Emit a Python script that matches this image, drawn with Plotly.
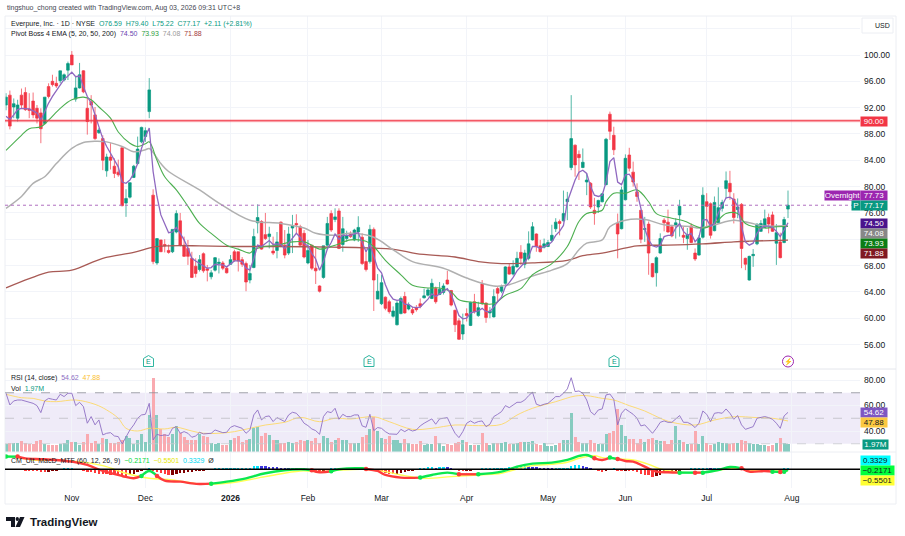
import plotly.graph_objects as go

# chart is indexed by trading day, 0 = Oct 9 2025, 202 = Jul 31 2026
month_ticks = [17, 36, 58, 78, 97, 119, 140, 160, 181, 203]
month_labels = ["Nov", "Dec", "<b>2026</b>", "Feb", "Mar", "Apr", "May", "Jun", "Jul", "Aug"]
# 72 and 104 only get a grid line, the tags and the USD box cover their labels
price_ticks = [56, 60, 64, 68, 72, 76, 80, 84, 88, 92, 96, 100, 104]
price_labels = ["56.00", "60.00", "64.00", "68.00", "", "76.00", "80.00", "84.00", "88.00", "92.00", "96.00", "100.00", ""]

opens = [
    92.4, 93.9, 92.1, 90.4, 93.9, 94.3, 91.8, 93.0, 91.9, 91.2,
    89.6, 95.2, 96.0, 95.7, 96.1, 96.2, 97.7, 100.0, 93.3, 95.0,
    97.6, 91.9, 92.9, 90.9, 88.2, 87.3, 82.4, 84.5, 83.1, 82.2,
    85.9, 77.5, 78.4, 81.4, 83.5, 86.8, 87.6, 91.4, 78.7, 68.4,
    71.9, 71.2, 70.3, 70.1, 73.1, 74.8, 71.1, 70.6, 69.1, 67.9,
    67.4, 69.8, 67.5, 66.3, 67.3, 68.3, 68.4, 67.6, 68.2, 70.1,
    70.1, 68.9, 68.3, 65.8, 67.7, 74.5, 74.7, 72.7, 72.4, 70.2,
    70.3, 74.6, 71.1, 69.9, 73.7, 74.4, 73.9, 72.9, 68.4, 71.1,
    67.6, 64.9, 66.2, 71.1, 75.9, 75.0, 76.3, 71.2, 72.1, 72.9,
    71.9, 73.1, 72.3, 68.6, 68.6, 73.5, 62.9, 62.2, 63.2, 62.5,
    60.3, 59.0, 60.7, 63.3, 61.4, 61.3, 61.6, 62.2, 63.1, 63.5,
    63.0, 64.5, 63.6, 63.9, 65.8, 64.2, 61.2, 59.6, 57.6, 60.7,
    58.9, 62.5, 60.4, 65.2, 62.3, 60.8, 60.2, 64.5, 64.1, 65.3,
    67.8, 66.7, 67.8, 70.0, 68.2, 69.1, 71.9, 72.8, 71.0, 70.8,
    70.9, 71.8, 73.6, 74.7, 74.8, 77.7, 82.9, 86.3, 84.9, 82.9,
    80.7, 80.5, 76.4, 76.9, 77.7, 80.3, 91.0, 87.8, 74.4, 73.6,
    78.0, 84.8, 82.2, 79.2, 76.4, 73.5, 74.3, 68.3, 66.9, 69.9,
    74.9, 74.6, 73.9, 74.1, 75.7, 72.6, 72.1, 74.0, 69.9, 69.6,
    72.3, 77.7, 77.4, 73.3, 74.5, 76.7, 79.7, 80.5, 78.1, 76.5,
    77.3, 69.1, 65.8, 69.5, 71.3, 73.2, 73.8, 75.3, 75.7, 71.4,
    71.6, 71.5, 76.59,
]
highs = [
    94.2, 94.6, 93.4, 93.2, 94.9, 95.1, 94.2, 94.3, 92.4, 91.9,
    93.6, 95.7, 97.0, 96.7, 97.6, 97.2, 99.0, 100.6, 96.7, 98.8,
    97.7, 93.4, 93.9, 92.1, 88.9, 87.8, 85.0, 86.6, 84.3, 84.1,
    85.9, 79.6, 80.6, 83.3, 87.6, 89.1, 89.0, 96.5, 79.6, 72.1,
    71.9, 72.0, 71.2, 73.5, 76.4, 76.0, 72.4, 71.9, 70.1, 69.1,
    69.6, 70.0, 68.1, 67.3, 69.3, 69.1, 68.7, 67.8, 69.6, 70.4,
    70.1, 69.3, 68.6, 68.1, 73.6, 77.3, 74.9, 76.0, 73.9, 72.4,
    73.1, 74.7, 73.4, 73.9, 75.7, 75.8, 74.2, 73.4, 71.9, 71.1,
    70.9, 65.0, 71.0, 75.4, 76.4, 76.7, 76.7, 75.4, 73.3, 73.2,
    73.6, 75.5, 72.9, 70.4, 74.2, 73.8, 66.7, 66.6, 63.3, 62.8,
    61.8, 62.6, 63.3, 64.0, 62.4, 61.7, 62.0, 63.0, 64.5, 64.6,
    66.0, 64.8, 65.5, 65.3, 67.2, 64.3, 61.3, 60.0, 60.7, 61.5,
    62.5, 63.7, 62.5, 65.8, 62.4, 61.7, 64.4, 64.8, 65.1, 67.9,
    68.3, 68.8, 70.1, 71.1, 70.4, 73.2, 74.6, 72.9, 71.9, 72.1,
    71.9, 74.2, 75.2, 75.0, 79.4, 79.2, 93.9, 86.4, 85.5, 85.8,
    82.0, 80.7, 78.3, 78.0, 79.0, 87.4, 91.4, 89.1, 75.9, 80.0,
    84.9, 85.9, 83.8, 80.5, 76.4, 75.4, 74.7, 68.4, 69.4, 72.9,
    75.2, 76.5, 74.2, 75.2, 78.0, 73.9, 73.7, 74.4, 70.6, 72.6,
    79.9, 79.0, 77.6, 78.5, 79.9, 78.0, 82.3, 82.4, 79.0, 78.2,
    77.5, 69.2, 69.5, 70.5, 74.4, 74.9, 76.5, 75.9, 76.2, 74.3,
    73.0, 75.4, 79.40,
]
lows = [
    91.6, 88.7, 90.4, 89.9, 91.9, 91.5, 90.4, 90.4, 89.6, 86.6,
    89.4, 93.4, 95.2, 95.0, 95.7, 96.0, 96.2, 98.5, 92.9, 94.9,
    94.2, 87.9, 89.6, 87.1, 88.0, 82.5, 81.5, 82.6, 81.3, 81.5,
    77.0, 75.4, 78.2, 81.3, 83.4, 86.6, 86.8, 90.4, 68.2, 68.1,
    70.1, 70.0, 69.8, 69.9, 72.9, 70.9, 69.3, 68.1, 66.1, 66.2,
    67.1, 66.9, 65.6, 65.9, 67.1, 66.8, 67.3, 66.8, 68.1, 68.6,
    67.1, 67.8, 64.1, 65.3, 67.6, 72.9, 70.4, 71.9, 70.6, 69.6,
    69.1, 70.8, 69.1, 69.6, 69.9, 72.9, 70.9, 69.1, 68.2, 67.3,
    65.2, 63.9, 66.0, 70.9, 73.1, 74.6, 70.5, 70.1, 71.6, 72.2,
    71.7, 71.6, 68.1, 67.1, 68.3, 61.1, 62.9, 62.0, 61.2, 60.7,
    60.1, 58.9, 60.6, 60.7, 61.2, 60.5, 61.0, 61.5, 63.0, 63.3,
    62.9, 62.2, 63.5, 63.6, 65.1, 61.8, 57.9, 56.7, 56.7, 59.5,
    58.8, 60.7, 60.2, 62.0, 59.3, 60.0, 60.1, 62.5, 63.8, 65.0,
    66.6, 66.5, 67.7, 68.1, 67.6, 68.8, 71.8, 70.1, 70.0, 70.6,
    70.8, 71.6, 73.1, 72.6, 74.7, 74.9, 82.5, 81.5, 81.0, 82.8,
    78.7, 76.6, 74.2, 76.0, 77.6, 80.2, 87.1, 84.8, 69.1, 73.5,
    77.9, 82.3, 80.0, 77.7, 71.4, 71.6, 66.6, 66.2, 64.8, 69.8,
    73.2, 73.0, 72.3, 72.1, 72.4, 71.4, 70.4, 71.4, 68.7, 69.5,
    72.1, 73.9, 72.1, 73.2, 74.4, 76.2, 78.2, 78.0, 74.4, 75.2,
    67.6, 67.3, 65.7, 67.8, 71.1, 73.1, 73.7, 72.9, 73.1, 68.1,
    69.1, 71.4, 75.22,
]
closes = [
    93.6, 89.2, 92.6, 92.4, 92.4, 91.7, 91.6, 90.9, 90.4, 88.8,
    93.6, 93.7, 95.5, 95.3, 97.6, 97.0, 98.7, 98.5, 95.0, 97.0,
    94.4, 89.9, 92.4, 87.3, 88.6, 84.0, 84.5, 84.0, 82.0, 81.8,
    77.1, 78.2, 80.6, 83.1, 85.7, 89.0, 88.5, 94.7, 68.6, 72.1,
    70.1, 71.0, 70.0, 73.5, 75.9, 71.1, 69.4, 69.4, 66.2, 66.8,
    68.9, 67.2, 67.3, 66.9, 69.2, 68.5, 67.6, 66.9, 68.9, 68.8,
    68.7, 68.2, 65.5, 66.8, 72.4, 75.3, 70.5, 72.1, 72.8, 69.9,
    71.6, 70.9, 69.6, 72.8, 74.0, 74.2, 71.1, 69.3, 70.3, 67.6,
    67.2, 64.1, 71.0, 74.4, 73.4, 75.4, 70.6, 73.6, 72.5, 72.4,
    73.4, 73.8, 68.3, 67.4, 73.5, 65.8, 64.1, 65.4, 61.5, 61.0,
    61.1, 62.3, 63.0, 60.8, 62.0, 60.8, 61.3, 61.8, 63.4, 64.3,
    65.3, 62.5, 64.4, 64.9, 65.2, 62.0, 59.0, 56.8, 59.0, 60.4,
    62.4, 61.0, 61.6, 62.2, 60.1, 61.1, 63.3, 63.8, 64.8, 67.8,
    66.7, 67.9, 69.1, 69.1, 69.9, 71.3, 73.9, 70.9, 70.1, 71.3,
    71.5, 72.6, 74.6, 74.4, 75.9, 78.1, 87.3, 83.3, 84.4, 83.7,
    81.0, 76.9, 75.9, 77.9, 78.9, 87.2, 88.4, 85.6, 72.8, 79.5,
    84.3, 82.8, 80.7, 78.5, 72.0, 73.6, 69.9, 66.3, 69.2, 72.1,
    74.5, 73.1, 72.5, 74.5, 77.0, 72.3, 72.7, 71.5, 69.0, 72.2,
    78.7, 77.0, 72.6, 77.6, 76.8, 77.6, 80.9, 79.2, 75.3, 76.9,
    70.6, 68.2, 69.4, 69.7, 74.3, 74.4, 75.1, 74.3, 73.2, 73.0,
    69.2, 75.0, 77.17,
]

ema5 = [
    90.7, 90.2, 90.9, 91.7, 91.9, 91.9, 91.8, 91.5, 91.2, 90.1,
    91.4, 92.7, 93.7, 94.6, 95.4, 96.3, 96.8, 97.4, 96.7, 96.8,
    95.2, 93.7, 92.7, 90.9, 89.4, 87.3, 86.1, 85.1, 84.1, 83.0,
    80.7, 80.5, 81.0, 82.0, 83.5, 85.8, 87.6, 88.9, 82.3, 78.5,
    75.7, 74.2, 73.0, 73.1, 73.8, 72.9, 71.9, 70.6, 69.1, 68.7,
    68.3, 67.9, 67.6, 67.7, 68.2, 68.1, 68.1, 67.8, 68.3, 68.7,
    68.7, 68.6, 67.6, 67.3, 69.0, 71.1, 70.9, 71.3, 71.8, 71.2,
    71.3, 71.2, 70.6, 71.4, 72.2, 72.9, 72.3, 71.3, 71.0, 69.8,
    69.0, 67.3, 68.6, 70.5, 71.5, 72.8, 72.0, 72.6, 72.6, 72.6,
    72.8, 73.0, 71.5, 70.1, 71.2, 69.4, 67.6, 66.9, 65.1, 63.7,
    62.9, 62.7, 62.8, 62.1, 62.1, 61.7, 61.6, 61.7, 62.3, 62.9,
    63.7, 63.3, 63.7, 64.1, 64.5, 63.6, 62.1, 60.4, 59.9, 60.0,
    60.8, 60.9, 61.1, 61.5, 61.0, 61.0, 61.8, 62.5, 63.2, 64.8,
    65.4, 66.2, 67.2, 67.8, 68.5, 69.4, 70.9, 70.9, 70.6, 70.9,
    71.1, 71.6, 72.6, 73.2, 74.1, 77.7, 79.5, 81.0, 82.2, 82.5,
    82.0, 80.0, 78.7, 78.5, 78.7, 80.7, 83.8, 84.4, 80.7, 80.3,
    81.8, 81.9, 81.0, 79.2, 76.7, 73.6, 71.9, 71.0, 70.8, 71.1,
    72.4, 72.6, 72.6, 73.7, 74.4, 73.2, 72.6, 72.9, 71.6, 72.3,
    74.9, 75.0, 74.0, 74.4, 76.0, 77.1, 78.3, 78.4, 78.0, 77.0,
    73.9, 71.6, 71.1, 71.4, 72.9, 73.7, 74.0, 74.0, 73.8, 73.2,
    72.4, 73.4, 74.50,
]

ema20_x = [0, 4, 6, 9, 11, 14, 17, 20, 22, 24, 27, 29, 32, 34, 36, 37, 39, 41, 44, 47, 50, 53, 57, 60, 63, 64, 66, 70, 74, 77, 79, 81, 85, 89, 93, 95, 98, 102, 105, 109, 112, 115, 117, 121, 126, 129, 133, 136, 141, 145, 148, 150, 154, 155, 157, 160, 163, 166, 168, 172, 175, 180, 183, 186, 189, 191, 196, 199, 202]
ema20 = [85.5, 87.8, 88.8, 89.1, 90.1, 91.9, 93.2, 93.6, 93.2, 92.1, 90.4, 88.3, 86.6, 86.1, 86.5, 86.8, 84.0, 81.5, 79.5, 77.0, 74.4, 72.9, 71.1, 70.5, 69.9, 70.4, 70.8, 71.1, 71.6, 71.6, 71.1, 70.5, 71.1, 71.9, 71.7, 70.9, 68.8, 66.6, 65.0, 64.6, 64.6, 64.0, 62.8, 62.4, 62.2, 63.5, 64.5, 66.6, 68.3, 70.9, 74.7, 75.9, 76.4, 77.7, 79.0, 79.0, 79.5, 77.7, 75.9, 75.2, 74.8, 73.7, 74.4, 75.9, 75.9, 74.4, 73.7, 73.9, 73.93]

ema50_x = [0, 4, 7, 10, 13, 17, 20, 23, 26, 30, 33, 36, 37, 40, 42, 50, 55, 63, 71, 77, 80, 85, 89, 95, 100, 105, 113, 119, 126, 130, 136, 141, 145, 148, 150, 154, 156, 160, 165, 170, 177, 179, 183, 188, 192, 196, 202]
ema50 = [76.7, 78.5, 80.5, 81.5, 83.5, 85.8, 86.7, 86.9, 86.8, 86.1, 85.3, 85.6, 85.8, 83.5, 82.3, 79.5, 77.5, 74.9, 74.4, 73.7, 72.9, 72.6, 72.9, 72.3, 70.4, 68.6, 67.6, 66.1, 64.9, 65.1, 66.4, 67.3, 68.3, 70.4, 71.4, 71.9, 73.9, 74.9, 75.0, 74.2, 73.9, 73.7, 74.2, 74.9, 74.5, 74.0, 74.08]

ema200_x = [0, 6, 11, 17, 25, 33, 38, 42, 50, 60, 70, 84, 93, 101, 106, 116, 122, 128, 136, 145, 149, 154, 158, 163, 171, 180, 188, 192, 202]
ema200 = [64.6, 66.0, 67.0, 67.3, 69.1, 70.0, 70.8, 71.0, 71.0, 70.9, 70.9, 70.8, 70.7, 70.4, 69.8, 69.3, 68.6, 68.3, 68.4, 68.8, 69.5, 69.9, 70.4, 71.0, 71.1, 71.3, 71.6, 71.7, 71.88]

rsi = [
    69.6, 60.4, 63.6, 64.3, 64.3, 63.6, 62.5, 61.7, 59.9, 54.4,
    63.6, 65.6, 64.9, 64.3, 68.8, 67.0, 69.6, 69.6, 59.9, 62.5,
    59.1, 46.1, 51.3, 44.8, 48.7, 36.9, 38.2, 38.7, 36.1, 35.6,
    29.8, 35.6, 40.8, 44.8, 50.0, 52.6, 53.1, 61.7, 33.0, 37.4,
    36.4, 36.9, 36.4, 42.1, 43.4, 38.2, 39.5, 38.2, 35.1, 36.1,
    39.0, 37.7, 38.2, 38.2, 40.8, 39.5, 38.7, 39.0, 42.9, 44.2,
    43.4, 42.1, 38.2, 40.8, 52.6, 56.5, 48.7, 51.3, 51.8, 47.4,
    50.5, 48.7, 47.4, 52.6, 54.7, 53.9, 50.5, 46.1, 44.2, 41.6,
    40.3, 37.4, 51.3, 55.2, 54.4, 57.8, 49.2, 53.1, 51.3, 51.3,
    52.6, 52.6, 44.0, 42.9, 53.1, 40.3, 42.7, 42.1, 39.5, 37.7,
    37.4, 37.4, 41.3, 39.5, 41.3, 40.0, 40.8, 44.0, 46.1, 47.9,
    49.5, 45.3, 49.5, 50.0, 50.5, 44.0, 38.2, 34.8, 39.5, 46.1,
    47.9, 46.1, 47.4, 47.9, 43.4, 45.3, 51.3, 53.1, 55.2, 59.9,
    58.3, 60.4, 62.5, 62.5, 64.3, 67.7, 70.4, 61.0, 59.9, 61.0,
    61.7, 64.3, 67.0, 67.0, 69.6, 73.0, 81.8, 70.9, 71.4, 69.6,
    64.3, 55.2, 52.6, 56.5, 57.3, 68.3, 69.0, 64.9, 44.8, 53.9,
    57.3, 55.2, 53.1, 50.0, 44.0, 44.8, 41.6, 38.2, 42.1, 46.8,
    47.9, 46.8, 46.8, 49.2, 52.1, 46.8, 46.8, 45.3, 42.7, 46.1,
    55.7, 53.1, 47.4, 53.9, 54.4, 53.9, 57.3, 53.9, 49.2, 52.1,
    44.8, 41.3, 42.1, 43.4, 50.0, 50.8, 51.3, 50.5, 49.2, 46.1,
    42.1, 51.8, 54.62,
]
rsi_ma_x = [0, 4, 7, 10, 13, 18, 23, 26, 29, 31, 34, 37, 41, 44, 48, 51, 55, 59, 63, 67, 72, 76, 81, 85, 89, 95, 99, 105, 110, 116, 122, 128, 132, 136, 142, 147, 150, 154, 157, 161, 165, 169, 172, 178, 183, 188, 194, 198, 202]
rsi_ma = [68.8, 66.1, 65.6, 63.5, 63.0, 64.3, 60.9, 56.5, 50.0, 42.1, 40.0, 42.1, 41.6, 42.9, 40.0, 38.2, 38.2, 39.5, 42.1, 44.7, 46.8, 50.7, 47.3, 50.0, 49.4, 51.2, 47.3, 41.3, 42.1, 44.7, 44.2, 45.2, 52.5, 57.8, 63.0, 67.4, 67.7, 65.6, 64.3, 59.9, 55.7, 50.0, 46.8, 44.7, 48.6, 51.2, 50.5, 50.0, 47.88]

vol = [
    2.1, 2.3, 2.3, 2.3, 2.9, 2.3, 2.0, 2.0, 2.7, 3.2,
    2.0, 1.9, 1.9, 1.9, 2.0, 2.3, 3.2, 2.6, 2.5, 1.7,
    2.6, 4.5, 2.4, 2.7, 2.1, 3.6, 3.4, 2.2, 2.4, 2.6,
    3.0, 4.1, 3.6, 2.1, 3.0, 4.5, 2.6, 9.6, 18.9, 9.6,
    6.0, 4.5, 3.8, 4.5, 6.7, 4.9, 3.8, 3.2, 3.1, 3.2,
    4.7, 4.1, 3.8, 2.3, 2.1, 2.3, 1.9, 1.9, 3.2, 3.6,
    4.1, 2.6, 3.2, 3.4, 6.2, 6.4, 4.1, 4.9, 4.3, 3.1,
    3.1, 2.4, 2.3, 2.6, 2.3, 2.6, 3.0, 2.7, 3.0, 2.7,
    3.7, 2.3, 4.1, 3.7, 2.6, 3.2, 3.7, 3.1, 3.2, 2.3,
    2.4, 2.3, 3.8, 4.3, 6.0, 9.0, 5.5, 3.6, 3.4, 4.1,
    3.2, 3.2, 2.4, 3.4, 2.4, 2.0, 2.0, 2.7, 1.9, 2.0,
    2.0, 4.0, 2.3, 1.45, 2.1, 1.9, 2.4, 2.6, 3.1, 2.5,
    1.9, 1.9, 1.9, 4.9, 2.3, 1.9, 2.4, 2.4, 2.3, 2.6,
    2.0, 2.1, 2.3, 2.6, 2.6, 2.6, 2.7, 2.0, 1.9, 2.3,
    1.45, 1.45, 1.9, 2.3, 3.1, 3.2, 10.0, 3.8, 2.6, 2.3,
    2.3, 3.1, 2.4, 2.0, 2.1, 4.5, 4.9, 5.3, 10.9, 7.0,
    4.0, 3.4, 3.4, 2.3, 3.4, 2.6, 3.4, 3.7, 3.0, 2.9,
    2.7, 2.1, 3.0, 6.7, 3.0, 2.6, 2.1, 2.1, 5.3, 2.1,
    4.1, 2.4, 1.9, 2.1, 2.5, 2.3, 2.4, 2.0, 2.2, 2.3,
    3.2, 2.8, 2.2, 2.1, 2.1, 1.7, 1.7, 1.5, 1.9, 2.4,
    3.5, 2.3, 1.97,
]

macd_up_x = [0, 3, None, 35, 37, 39, None, 53, 57, 62, 67, 76, 79, None, 84, 86, 92, 93, None, 107, 110, 114, 117, None, 122, 128, 132, 136, 141, 145, 148, 150, 152, None, 156, 158, None, 174, 178, None, 180, 184, 187, 190, None, 198, 200, None, 201, 202]
macd_up = [3.96, 3.96, None, -2.08, -0.52, -2.08, None, -4.48, -3.85, -2.81, -1.25, 0.0, -0.31, None, -0.63, 0.0, 0.31, 0.1, None, -2.6, -1.77, -1.04, -1.56, None, -1.56, -0.73, 0.83, 1.77, 2.08, 2.92, 4.17, 4.48, 3.44, None, 3.65, 3.23, None, -1.04, -1.04, None, -1.04, -0.21, 0.73, 0.31, None, -0.73, -0.83, None, -0.73, -0.2171]
macd_down_x = [3, 5, 10, 17, 21, 25, 30, 33, 35, None, 39, 41, 45, 48, 50, 53, None, 79, 81, 84, None, 93, 96, 98, 102, 107, None, 117, 122, None, 152, 154, 156, None, 158, 160, 162, 165, 168, 171, 174, None, 178, 180, None, 190, 192, 196, 198, None, 200, 201]
macd_down = [3.96, 3.4, 3.13, 2.4, 1.35, -0.52, -2.08, -2.81, -2.08, None, -2.08, -3.54, -3.85, -4.38, -4.58, -4.48, None, -0.31, -0.94, -0.63, None, 0.1, -0.52, -1.77, -2.6, -2.6, None, -1.56, -1.56, None, 3.44, 2.92, 3.65, None, 3.23, 2.6, 2.4, 0.83, -0.73, -0.94, -1.04, None, -1.04, -1.04, None, 0.31, -0.73, -0.52, -0.73, None, -0.83, -0.73]
signal_x = [0, 7, 16, 25, 31, 37, 43, 50, 57, 67, 76, 81, 85, 92, 98, 102, 108, 115, 122, 128, 132, 136, 141, 145, 148, 152, 154, 158, 162, 166, 169, 174, 180, 183, 188, 192, 198, 202]
signal = [4.27, 2.92, 2.71, 1.15, -1.25, -2.81, -3.33, -4.58, -4.38, -2.29, -0.52, -0.73, -0.42, 0.0, -0.73, -1.77, -2.81, -2.29, -1.77, -1.25, 0.1, 1.15, 1.56, 2.19, 3.44, 4.27, 3.65, 3.23, 2.92, 1.56, 0.1, -0.94, -0.94, -0.52, 0.31, -0.21, -0.52, -0.5501]
hist = [
    0, 0, 0, 0, 0, -0.31, -0.31, -0.42, -0.63, -0.83,
    -0.83, -0.73, -0.63, -0.42, -0.21, 0.1, 0.21, 0.21, 0, -0.21,
    -0.52, -0.73, -0.94, -1.15, -1.35, -1.46, -1.56, -1.67, -1.77, -1.88,
    -1.98, -2.08, -1.88, -1.35, -0.83, -0.42, -0.21, 0.1, -0.42, -0.83,
    -1.25, -1.56, -1.77, -1.67, -1.46, -1.25, -1.04, -0.94, -0.83, -0.63,
    -0.52, -0.42, -0.21, -0.1, 0.1, 0.21, 0.31, 0.31, 0.31, 0.42,
    0.42, 0.42, 0.52, 0.52, 0.94, 1.15, 1.04, 0.94, 0.83, 0.73,
    0.63, 0.52, 0.42, 0.31, 0.31, 0.21, 0.1, 0.1, 0, -0.21,
    -0.42, -0.63, -0.31, -0.1, 0.1, 0.21, 0.21, 0.31, 0.31, 0.42,
    0.42, 0.31, 0.1, -0.1, -0.21, -0.31, -0.52, -0.63, -1.04, -1.35,
    -1.46, -1.35, -1.04, -0.73, -0.52, -0.42, -0.21, 0.1, 0.31, 0.63,
    0.63, 0.52, 0.63, 0.73, 0.63, 0.31, -0.1, -0.52, -0.63, -0.52,
    -0.31, -0.21, 0, 0.1, 0.1, 0.1, 0.21, 0.31, 0.31, 0.52,
    0.63, 0.73, 0.83, 0.94, 1.04, 0.94, 0.83, 0.63, 0.42, 0.31,
    0.21, 0.1, 0.1, 0.1, 0.21, 0.42, 1.15, 1.25, 1.25, 1.15,
    0.83, 0.31, -0.21, -0.63, -0.73, -0.52, -0.21, 0.1, -0.42, -0.63,
    -0.52, -0.52, -0.63, -0.83, -1.46, -1.67, -1.88, -2.29, -2.08, -1.67,
    -1.25, -1.04, -0.83, -0.52, -0.31, -0.1, 0, 0.1, 0.1, 0.21,
    0.31, 0.31, 0.21, 0.21, 0.21, 0.42, 0.63, 0.73, 0.52, 0.1,
    -0.21, -0.42, -0.52, -0.52, -0.42, -0.31, -0.31, -0.21, -0.1, -0.1,
    -0.1, 0.1, 0.3329,
]
cross_green_x = [0, 35, 53, 84, 107, 122, 156, 174, 180, 198, 201]
cross_green_y = [3.96, -2.08, -4.48, -0.63, -2.6, -1.56, 3.65, -1.04, -1.04, -0.73, -0.73]
cross_red_x = [3, 39, 79, 93, 117, 152, 158, 178, 190, 200]
cross_red_y = [3.96, -2.08, -0.31, 0.1, -1.56, 3.44, 3.23, -1.04, 0.31, -0.83]

UP = "#089981"
DOWN = "#f23645"
GRID = "#f2f4f9"
FONT = "Liberation Sans"
W, H = 905, 536


def px(v):
    return v / W


def py(v):
    return 1 - v / H


vol_colors = ["#86cbc0" if c >= o else "#f9aab0" for o, c in zip(opens, closes)]
hist_colors = []
for i, v in enumerate(hist):
    prev = hist[i - 1] if i else 0
    if v >= 0:
        hist_colors.append("#00e5ff" if v >= prev else "#3d35e0")
    else:
        hist_colors.append("#ff3b3b" if v <= prev else "#800000")

fig = go.Figure()

fig.add_trace(go.Candlestick(
    x=list(range(len(opens))), open=opens, high=highs, low=lows, close=closes,
    increasing=dict(line=dict(color=UP, width=0.7), fillcolor=UP),
    decreasing=dict(line=dict(color=DOWN, width=0.7), fillcolor=DOWN),
    whiskerwidth=0, xaxis="x", yaxis="y",
))
fig.add_trace(go.Scatter(x=ema200_x, y=ema200, mode="lines", line=dict(color="#a85a55", width=1.3, shape="spline"), yaxis="y"))
fig.add_trace(go.Scatter(x=ema50_x, y=ema50, mode="lines", line=dict(color="#b0b0b0", width=1.5, shape="spline"), yaxis="y"))
fig.add_trace(go.Scatter(x=ema20_x, y=ema20, mode="lines", line=dict(color="#4caf50", width=1.1, shape="spline"), yaxis="y"))
fig.add_trace(go.Scatter(x=list(range(len(ema5))), y=ema5, mode="lines", line=dict(color="#8f68c0", width=1.3), yaxis="y"))

fig.add_trace(go.Bar(x=list(range(len(vol))), y=vol, marker=dict(color=vol_colors, line_width=0), width=0.78, yaxis="y2"))
fig.add_trace(go.Scatter(x=rsi_ma_x, y=rsi_ma, mode="lines", line=dict(color="#fdd867", width=0.9, shape="spline"), yaxis="y4"))
fig.add_trace(go.Scatter(x=list(range(len(rsi))), y=rsi, mode="lines", line=dict(color="#8e6fc4", width=0.9), yaxis="y4"))

fig.add_trace(go.Bar(x=list(range(len(hist))), y=hist, marker=dict(color=hist_colors, line_width=0), width=0.62, yaxis="y3"))
fig.add_trace(go.Scatter(x=signal_x, y=signal, mode="lines", line=dict(color="#ffff55", width=1.4, shape="spline"), yaxis="y3"))
fig.add_trace(go.Scatter(x=macd_down_x, y=macd_down, mode="lines", line=dict(color="#ff3b3b", width=2.4, shape="spline"), yaxis="y3"))
fig.add_trace(go.Scatter(x=macd_up_x, y=macd_up, mode="lines", line=dict(color="#0be84f", width=2.4, shape="spline"), yaxis="y3"))
fig.add_trace(go.Scatter(x=cross_green_x, y=cross_green_y, mode="markers", marker=dict(color="#0be84f", size=4.5), yaxis="y3"))
fig.add_trace(go.Scatter(x=cross_red_x, y=cross_red_y, mode="markers", marker=dict(color="#ff3b3b", size=4.5), yaxis="y3"))

shapes = [
    # outer frame and pane separators
    dict(type="rect", xref="paper", yref="paper", x0=px(5), x1=px(896), y0=py(504), y1=py(16), line=dict(color="#eceef3", width=1)),
    dict(type="line", xref="paper", yref="paper", x0=px(5), x1=px(896), y0=py(369), y1=py(369), line=dict(color="#e4e6ec", width=1)),
    dict(type="line", xref="paper", yref="paper", x0=px(5), x1=px(896), y0=py(452), y1=py(452), line=dict(color="#eceef3", width=1)),
    # rsi band
    dict(type="rect", xref="paper", yref="y4", x0=px(5), x1=px(860), y0=30, y1=70, fillcolor="rgba(126,87,194,0.12)", line_width=0, layer="below"),
    dict(type="line", xref="paper", yref="y4", x0=px(5), x1=px(860), y0=70, y1=70, line=dict(color="#8b8d96", width=0.8, dash="dash")),
    dict(type="line", xref="paper", yref="y4", x0=px(5), x1=px(860), y0=50, y1=50, line=dict(color="#bcbdc4", width=0.8, dash="dash")),
    dict(type="line", xref="paper", yref="y4", x0=px(5), x1=px(860), y0=30, y1=30, line=dict(color="#c8c9cf", width=0.8, dash="dash")),
    # horizontal levels
    dict(type="line", xref="paper", yref="y", x0=px(5), x1=px(860), y0=90, y1=90, line=dict(color="rgba(242,54,69,0.3)", width=3)),
    dict(type="line", xref="paper", yref="y", x0=px(5), x1=px(860), y0=90, y1=90, line=dict(color=DOWN, width=1.1)),
    dict(type="line", xref="paper", yref="y", x0=px(5), x1=px(860), y0=77.17, y1=77.17, line=dict(color="#b06fc0", width=1, dash="dot")),
    # macd zero
    dict(type="line", xref="paper", yref="y3", x0=px(5), x1=px(860), y0=0, y1=0, line=dict(color="#000000", width=1.4)),
    # usd box
    dict(type="rect", xref="paper", yref="paper", x0=px(862), x1=px(893), y0=py(33), y1=py(18), line=dict(color="#eceef3", width=1), fillcolor="white"),
    # lightning marker
    dict(type="circle", xref="paper", yref="paper", x0=px(782.5), x1=px(793.5), y0=py(367), y1=py(356), line=dict(color="#9c27b0", width=1), fillcolor="white"),
    # tradingview logo
    dict(type="path", xref="paper", yref="paper", fillcolor="#131722", line_width=0,
         path=f"M{px(6)},{py(517)} L{px(15)},{py(517)} L{px(15)},{py(527)} L{px(11)},{py(527)} L{px(11)},{py(521)} L{px(6)},{py(521)} Z"),
    dict(type="circle", xref="paper", yref="paper", fillcolor="#131722", line_width=0, x0=px(15.6), x1=px(19), y0=py(521), y1=py(517)),
    dict(type="path", xref="paper", yref="paper", fillcolor="#131722", line_width=0,
         path=f"M{px(20)},{py(517)} L{px(24.5)},{py(517)} L{px(20)},{py(527)} L{px(15.5)},{py(527)} Z"),
]
# earnings badges, little house shapes
for ex in [148.5, 369, 614]:
    shapes.append(dict(type="path", xref="paper", yref="paper", fillcolor="white", line=dict(color="#2fb5a0", width=1),
                       path=f"M{px(ex - 5)},{py(358.5)} L{px(ex)},{py(355.5)} L{px(ex + 5)},{py(358.5)} L{px(ex + 5)},{py(366.5)} L{px(ex - 5)},{py(366.5)} Z"))


def text(t, x, y, size=7, color="#131722", anchor="left", weight=None):
    return dict(text=t, xref="paper", yref="paper", x=px(x), y=py(y), xanchor=anchor, yanchor="middle",
                showarrow=False, font=dict(family=FONT, size=size, color=color, weight=weight), align="left")


def tag(t, y, bg, fg="white", x0=860, w=26):
    return dict(text=t, xref="paper", yref="paper", x=px(x0), y=py(y), xanchor="left", yanchor="middle",
                showarrow=False, font=dict(family=FONT, size=8, color=fg), bgcolor=bg,
                width=w, height=9, borderpad=0, align="center")


def colored(t, color):
    return f'<span style="color:{color}">{t}</span>'


annotations = [
    text("tingshuo_chong created with TradingView.com, Aug 03, 2026 09:31 UTC+8", 5, 8, color="#434651"),
    text("Everpure, Inc. · 1D · NYSE  " + colored("O76.59  H79.40  L75.22  C77.17  +2.11 (+2.81%)", UP), 9, 24),
    text("Pivot Boss 4 EMA (5, 20, 50, 200)  " + colored("74.50", "#6a3fb0") + "  " + colored("73.93", "#2e9c39") + "  "
         + colored("74.08", "#999999") + "  " + colored("71.88", "#a33a3a"), 9, 34),
    text("USD", 873, 26),
    text("RSI (14, close)  " + colored("54.62", "#8e6fc4") + "  " + colored("47.88", "#fbc02d"), 9, 378),
    text("Vol  " + colored("1.97M", UP), 9, 388),
    text("CM_Ult_MacD_MTF (60, 12, 26, 9)  " + colored("−0.2171", "#00d83c") + "  " + colored("−0.5501", "#e6e600") + "  "
         + colored("0.3329", "#00d8f0") + "  Ø", 9, 460.5),
    text("TradingView", 28, 522, size=11.5, weight=700),
    text("⚡", 788, 361.5, color="#9c27b0", anchor="center"),
]
for ex in [148.5, 369, 614]:
    annotations.append(dict(text="E", xref="paper", yref="paper", x=px(ex), y=py(361.5), xanchor="center", yanchor="middle",
                            showarrow=False, font=dict(family=FONT, size=7, color=UP)))

annotations += [
    tag("90.00", 121, DOWN),
    dict(text="Overnight", xref="paper", yref="paper", x=px(824), y=py(195.7), xanchor="left", yanchor="middle", showarrow=False,
         font=dict(family=FONT, size=8, color="white"), bgcolor="#9c27b0", width=35, height=9, borderpad=0),
    tag("77.73", 195.7, "#9c27b0"),
    dict(text="P", xref="paper", yref="paper", x=px(851), y=py(205.7), xanchor="left", yanchor="middle", showarrow=False,
         font=dict(family=FONT, size=8, color="white"), bgcolor=UP, width=8, height=9, borderpad=0),
    tag("77.17", 205.7, UP),
    tag("74.50", 223.3, "#4a148c"),
    tag("74.08", 233.3, "#878787"),
    tag("73.93", 243.3, "#0b7d14"),
    tag("71.88", 253.3, "#801922"),
    tag("54.62", 412.7, "#7e57c2"),
    tag("47.88", 422.7, "#fbc840", fg="#131722"),
    tag("1.97M", 444.5, UP, x0=862, w=25),
    tag("0.3329", 460.7, "#00ffff", fg="#131722", x0=860, w=29),
    tag("−0.2171", 470.7, "#00ff3c", fg="#131722", x0=860, w=33),
    tag("−0.5501", 480.7, "#ffff33", fg="#131722", x0=860, w=33),
]

axis_font = dict(family=FONT, size=8.5, color="#131722")
fig.update_layout(
    width=W, height=H,
    margin=dict(l=0, r=0, t=0, b=0),
    paper_bgcolor="white", plot_bgcolor="white",
    showlegend=False, barmode="overlay", bargap=0, boxgap=0.2, boxgroupgap=0.15,
    shapes=shapes, annotations=annotations,
    xaxis=dict(domain=[px(5), px(860)], range=[-0.26, 220.6], anchor="y3", tickvals=month_ticks, ticktext=month_labels,
               showgrid=True, gridcolor=GRID, gridwidth=1, zeroline=False, rangeslider_visible=False, ticks="", showline=False,
               tickfont=axis_font, ticklabelstandoff=3, tickangle=0),
    yaxis=dict(domain=[py(369), py(16)], range=[52.28, 105.93], side="right", anchor="x", tickvals=price_ticks, ticktext=price_labels,
               showgrid=True, gridcolor=GRID, gridwidth=1, zeroline=False, ticks="", tickfont=axis_font, showline=False, ticklabelstandoff=3),
    yaxis2=dict(domain=[py(452), py(370)], range=[0, 21], anchor="x", visible=False, showgrid=False),
    yaxis4=dict(domain=[py(452), py(370)], range=[23.53, 87.84], overlaying="y2", side="right", anchor="x", tickvals=[40, 60, 80],
                ticktext=["40.00", "60.00", "80.00"], showgrid=True, gridcolor=GRID, gridwidth=1, zeroline=False, ticks="", tickfont=axis_font, ticklabelstandoff=3),
    yaxis3=dict(domain=[py(488), py(452)], range=[-5.84, 5.4], anchor="x", visible=False, showgrid=False, zeroline=False),
)

fig.write_html("out.html", post_script="document.body.style.margin='0';", config=dict(displayModeBar=False))
